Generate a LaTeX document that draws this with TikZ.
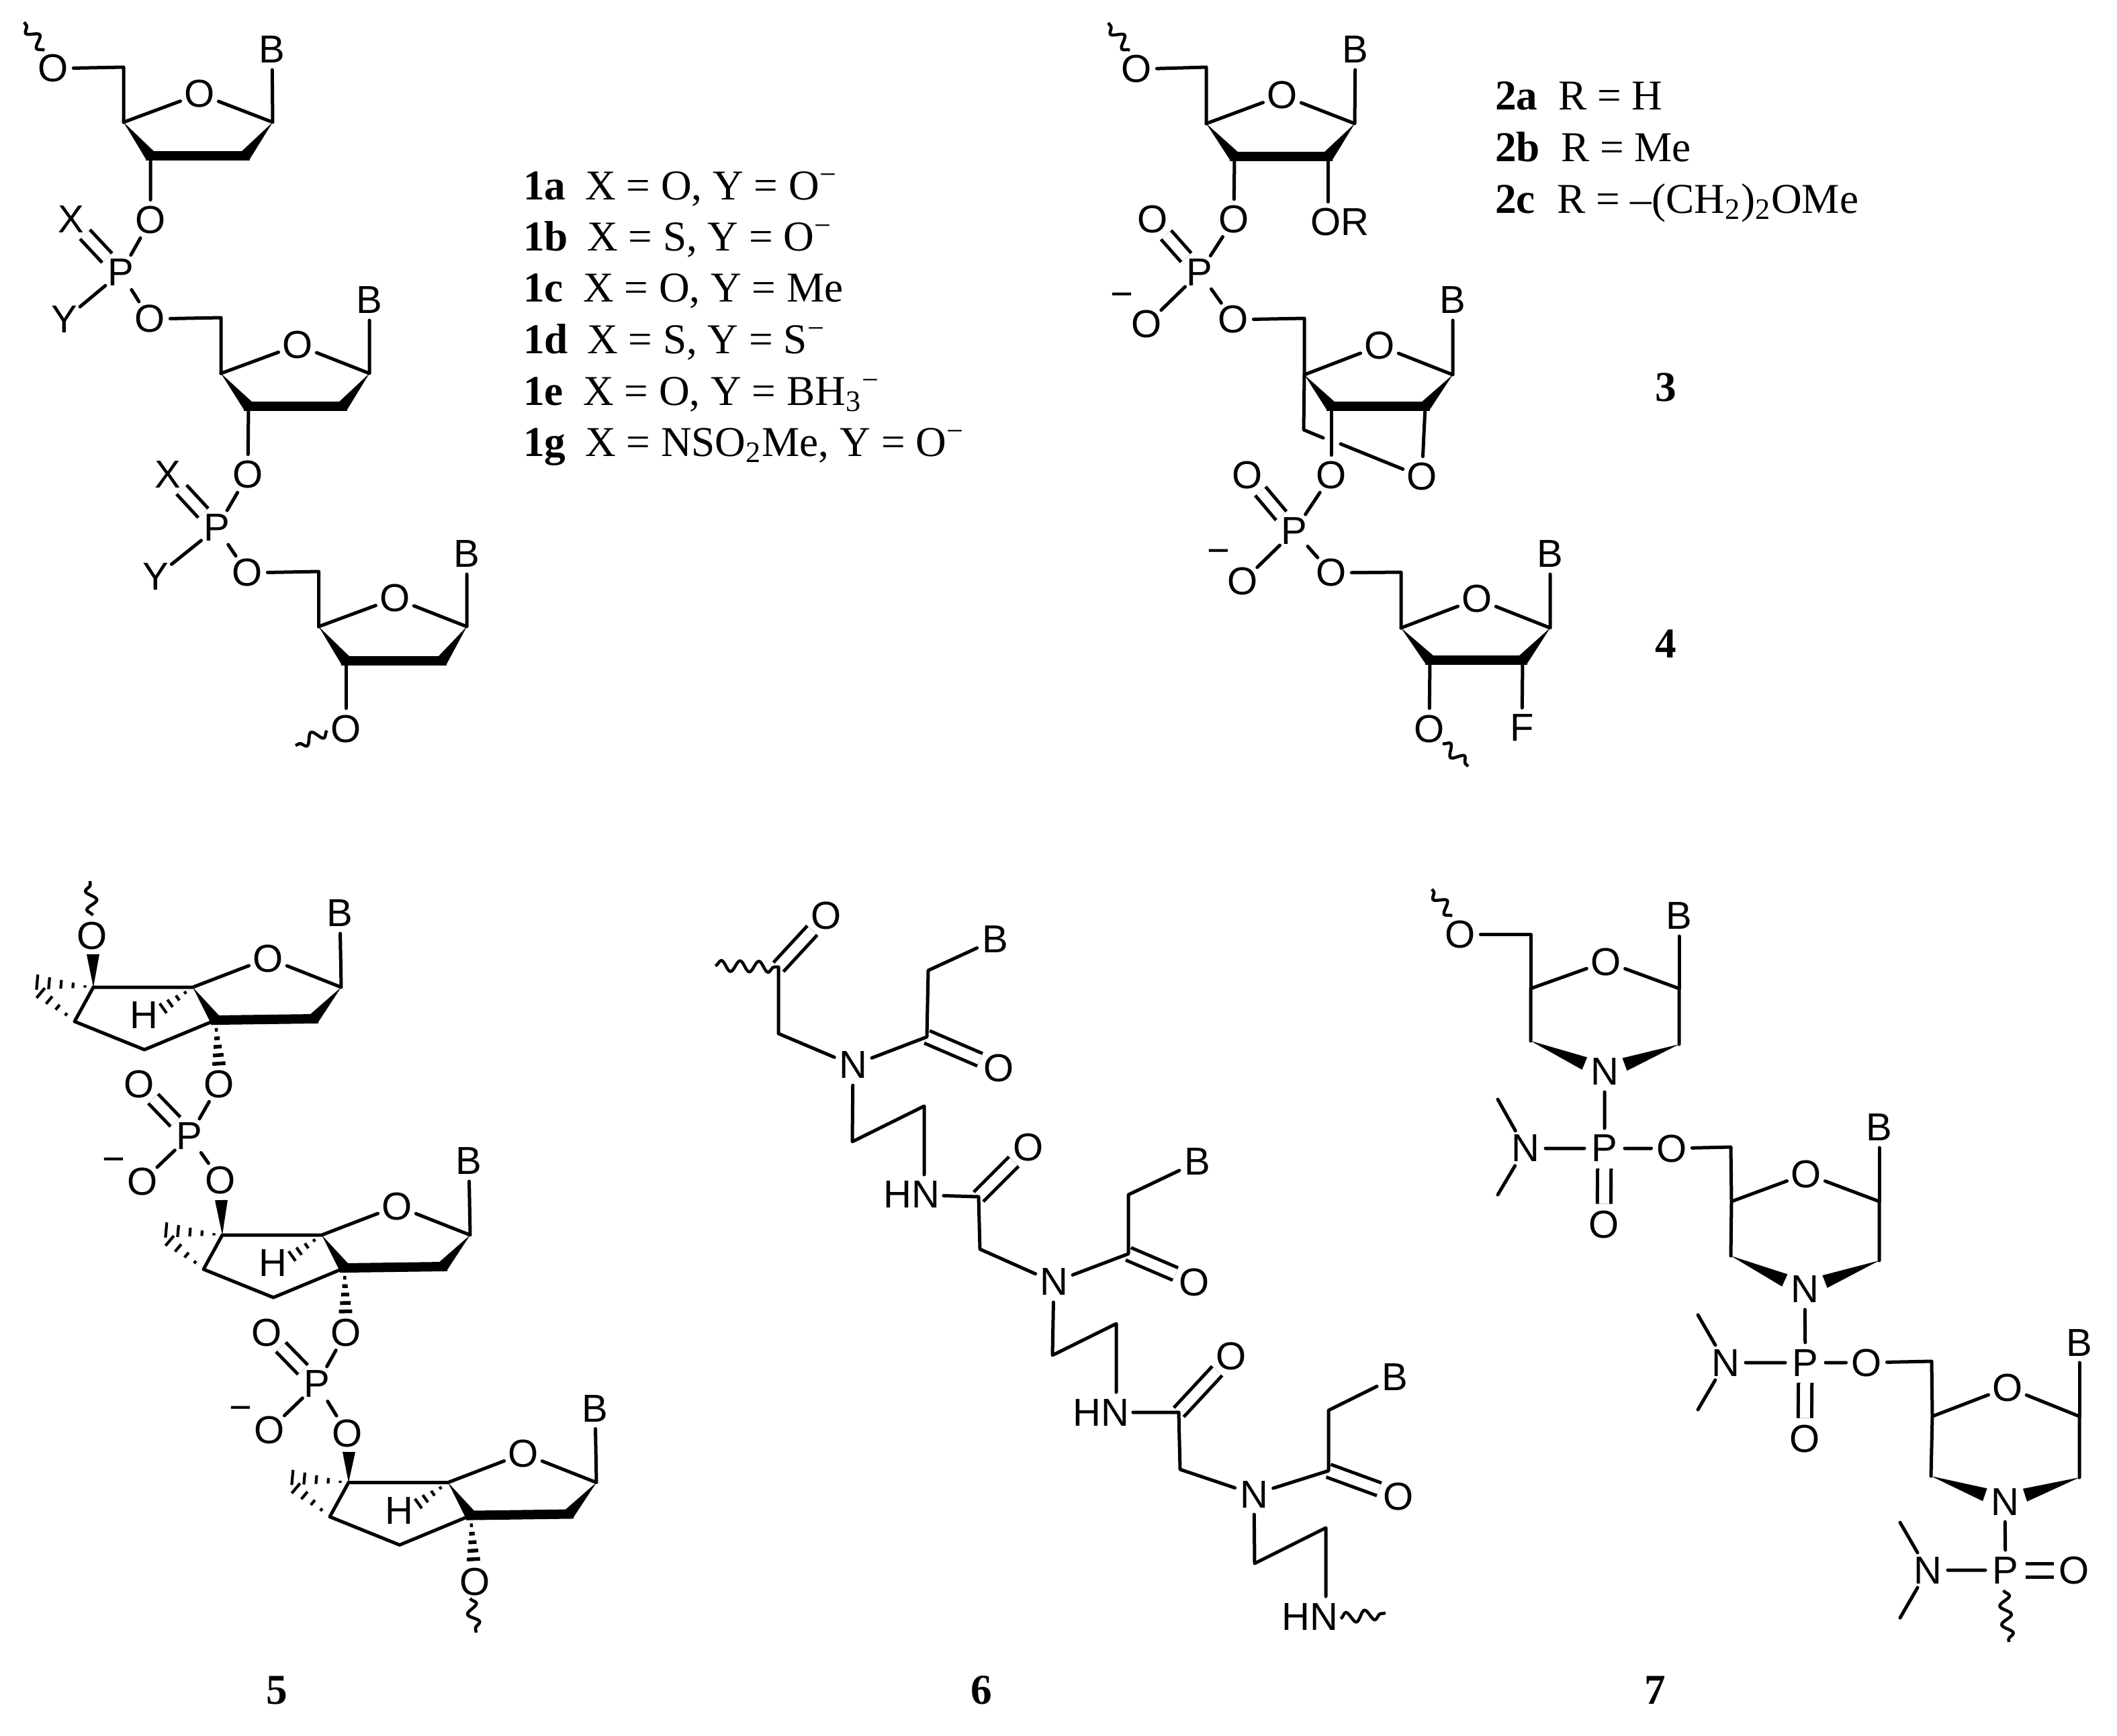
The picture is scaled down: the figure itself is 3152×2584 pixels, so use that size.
\documentclass[tikz,border=0pt]{standalone}
\usepackage{fontspec}
\setmainfont{Liberation Serif}
\newfontfamily\chemfont{Liberation Sans}
\usetikzlibrary{calc,decorations.pathmorphing}
\tikzset{
  atom/.style={circle,inner sep=0pt,outer sep=0pt,minimum size=0.6cm,font=\chemfont\fontsize{16.5}{18}\selectfont},
  atomwide/.style={rectangle,inner xsep=0.06cm,inner ysep=0.1cm,outer sep=0pt,font=\chemfont\fontsize{16.5}{18}\selectfont},
  charge/.style={rectangle,inner sep=0pt,outer sep=0pt,font=\chemfont\fontsize{16.5}{18}\selectfont},
  bond/.style={draw=black,line width=0.05cm,line cap=round,line join=round},
  boldb/.style={draw=black,line width=0.14cm,line cap=rect},
  dbl/.style={draw=black,line width=0.05cm,double=white,double distance=0.15cm,line cap=butt},
  wavy/.style={draw=black,line width=0.045cm,decorate,decoration={snake,segment length=0.28cm,amplitude=0.08cm,pre length=0pt,post length=0pt}},
  hashline/.style={draw=black,line width=0.055cm},
  lab/.style={inner sep=0pt,outer sep=0pt,anchor=base west,font=\bfseries\fontsize{18}{20}\selectfont},
  txt/.style={inner sep=0pt,outer sep=0pt,anchor=base west,font=\fontsize{18}{20}\selectfont},
  num/.style={inner sep=0pt,outer sep=0pt,font=\bfseries\fontsize{18}{20}\selectfont},
}
% filled wedge: point at #1, wide end at #2, half width #3
\newcommand\wedgeb[3]{\fill[black] (#1) -- ($(#2)!#3!90:(#1)$) -- ($(#2)!#3!-90:(#1)$) -- cycle;}
% hashed wedge: narrow at #2, wide at #3, half width #4 (number, cm)
\newcommand\hashb[4][0.14,0.33,0.52,0.71,0.9]{%
  \foreach \hh in {#1}{%
    \pgfmathsetmacro\hw{#4*\hh}%
    \draw[hashline] ($(#2)!\hh!(#3)!\hw cm!90:(#3)$) -- ($(#2)!\hh!(#3)!\hw cm!-90:(#3)$);
  }}
% furanose: prefix, C4, O, C1, C3, C2, B
\newcommand\Fur[7]{%
  \coordinate (#1C4) at (#2);
  \node[atom] (#1O) at (#3) {O};
  \coordinate (#1C1) at (#4);
  \coordinate (#1C3) at (#5);
  \coordinate (#1C2) at (#6);
  \node[atom] (#1B) at (#7) {B};
  \draw[bond] (#1C4) -- (#1O) -- (#1C1) -- (#1B);
  \draw[boldb] (#1C3) -- (#1C2);
  \wedgeb{#1C4}{#1C3}{0.085cm}
  \wedgeb{#1C1}{#1C2}{0.085cm}
}
% bicyclic unit of structure 5: prefix, origin
\newcommand\Bicy[2]{%
  \begin{scope}[shift={(#2)}]
  \coordinate (#1C5) at (0,0);
  \coordinate (#1C6) at (148,0);
  \node[atom] (#1O) at (260,-43) {O};
  \coordinate (#1C1) at (369,0);
  \node[atom] (#1B) at (367,-110) {B};
  \coordinate (#1C2) at (328,47);
  \coordinate (#1C3) at (182,49);
  \coordinate (#1L) at (-28,51);
  \coordinate (#1M) at (76,93);
  \coordinate (#1A) at (-89,-8);
  \coordinate (#1A2) at (-91,-2);
  \node[atom] (#1H) at (75,42) {H};
  \coordinate (#1HE) at (103,32);
  \draw[bond] (#1C5) -- (#1C6) -- (#1O) -- (#1C1) -- (#1B);
  \draw[bond] (#1C5) -- (#1L) -- (#1M) -- (#1C3);
  \draw[boldb] (#1C3) -- (#1C2);
  \wedgeb{#1C6}{#1C3}{0.085cm}
  \wedgeb{#1C1}{#1C2}{0.085cm}
  \begin{scope}[hashline/.style={draw=black,line width=0.042cm}]
  \hashb[0.14,0.34,0.54,0.74,0.94]{#1C5}{#1A}{0.12}
  \hashb[0.2,0.4,0.6,0.8,1.0]{#1L}{#1A2}{0.12}
  \hashb[0.25,0.5,0.75,0.98]{#1C6}{#1HE}{0.09}
  \end{scope}
  \end{scope}
}
% morpholine: prefix, C4, O, C1, left C, right C, N, B
\newcommand\Morph[8]{%
  \coordinate (#1C4) at (#2);
  \node[atom] (#1O) at (#3) {O};
  \coordinate (#1C1) at (#4);
  \coordinate (#1CL) at (#5);
  \coordinate (#1CR) at (#6);
  \node[atom] (#1N) at (#7) {N};
  \node[atom] (#1B) at (#8) {B};
  \coordinate (#1WL) at ($(#1CL)!0.73!(#7)$);
  \coordinate (#1WR) at ($(#1CR)!0.73!(#7)$);
  \draw[bond] (#1CL) -- (#1C4) -- (#1O) -- (#1C1) -- (#1CR);
  \draw[bond] (#1C1) -- (#1B);
  \wedgeb{#1CL}{#1WL}{0.1cm}
  \wedgeb{#1CR}{#1WR}{0.1cm}
}
\begin{document}
\begin{tikzpicture}[x=0.01cm,y=-0.01cm]
\useasboundingbox (0,0) rectangle (3152,2584);
\fill[white] (0,0) rectangle (3152,2584);

%%%%%% Structure 1
\Fur{a}{184,182}{297,140}{406,182}{224,232}{365,232}{405,74}
\Fur{b}{329,556}{443,514}{550,556}{370,605}{510,605}{550,447}
\Fur{c}{474.5,933}{588,891}{695,933}{515,984}{658,984}{695,825}
\coordinate (aC5) at (184,100);
\node[atom] (aO5) at (79,102) {O};
\coordinate (aw1) at (66,75);
\coordinate (aw2) at (36,33);
\draw[wavy] (aw1) -- (aw2);
\draw[bond] (aO5) -- (aC5) -- (aC4);
\node[atom] (aO3) at (224,328) {O};
\node[atom] (aP) at (180,406) {P};
\node[atom] (aX) at (106,327) {X};
\node[atom] (aY) at (96,476) {Y};
\node[atom] (bO5) at (223,475) {O};
\coordinate (bC5) at (329,473);
\draw[dbl] (aP) -- (aX);
\draw[bond] (aC3) -- (aO3) -- (aP) -- (aY);
\draw[bond] (aP) -- (bO5) -- (bC5) -- (bC4);
\node[atom] (bO3) at (369,707) {O};
\node[atom] (bP) at (323,786) {P};
\node[atom] (bX) at (250,707) {X};
\node[atom] (bY) at (232,859) {Y};
\node[atom] (cO5) at (368,853) {O};
\coordinate (cC5) at (474.5,851);
\draw[dbl] (bP) -- (bX);
\draw[bond] (bC3) -- (bO3) -- (bP) -- (bY);
\draw[bond] (bP) -- (cO5) -- (cC5) -- (cC4);
\node[atom] (cO3) at (515,1085) {O};
\draw[bond] (cC3) -- (cO3);
\coordinate (cw1) at (487,1088);
\coordinate (cw2) at (440,1110);
\draw[wavy] (cw1) -- (cw2);

%%%%%% Table 1
\node[lab] (n1a) at (779,297) {1a};
\node[txt] (t1a) at (871,297) {X = O, Y = O\textsuperscript{−}};
\node[lab] (n1b) at (779,373) {1b};
\node[txt] (t1b) at (874,373) {X = S, Y = O\textsuperscript{−}};
\node[lab] (n1c) at (779,449) {1c};
\node[txt] (t1c) at (868,449) {X = O, Y = Me};
\node[lab] (n1d) at (779,526) {1d};
\node[txt] (t1d) at (874,526) {X = S, Y = S\textsuperscript{−}};
\node[lab] (n1e) at (779,603) {1e};
\node[txt] (t1e) at (868,603) {X = O, Y = BH\textsubscript{3}\textsuperscript{−}};
\node[lab] (n1g) at (779,679) {1g};
\node[txt] (t1g) at (871,679) {X = NSO\textsubscript{2}Me, Y = O\textsuperscript{−}};

%%%%%% Structures 2,3,4
\Fur{d}{1796,184}{1909,142}{2017,184}{1838,233}{1977,233}{2018,74}
\Fur{e}{1942,558}{2054,515}{2163,558}{1982,605}{2122,605}{2163,447}
\Fur{f}{2086,935}{2199,892}{2308,935}{2129,983}{2267,983}{2308,825}
\coordinate (dC5) at (1796,100);
\node[atom] (dO5) at (1692,103) {O};
\coordinate (dw1) at (1682,75);
\coordinate (dw2) at (1650,34);
\draw[wavy] (dw1) -- (dw2);
\draw[bond] (dO5) -- (dC5) -- (dC4);
\node[atom] (dO3) at (1837,327) {O};
\node[atomwide] (dOR) at (1995,331) {OR};
\draw[bond] (dC2) -- (dC2 |- dOR.north);
\node[atom] (dP) at (1786,406) {P};
\node[atom] (dX) at (1716,327) {O};
\node[atom] (dM) at (1707,483) {O};
\node[charge] (dMinus) at (1670,447) {−};
\node[atom] (eO5) at (1836,476) {O};
\coordinate (eC5) at (1942,474);
\draw[dbl] (dP) -- (dX);
\draw[bond] (dC3) -- (dO3) -- (dP) -- (dM);
\draw[bond] (dP) -- (eO5) -- (eC5) -- (eC4);
% bridge of 3
\coordinate (eBr) at (1941,640);
\coordinate (eBr1) at (1970,652);
\coordinate (eBr2) at (1996,661);
\node[atom] (eOb) at (2117,710) {O};
\node[atom] (eO3) at (1982,708) {O};
\draw[bond] (eC4) -- (eBr) -- (eBr1);
\draw[bond] (eBr2) -- (eOb) -- (eC2);
\draw[bond] (eC3) -- (eO3);
\node[atom] (eP) at (1927,791) {P};
\node[atom] (eX) at (1857,708) {O};
\node[atom] (eM) at (1850,866) {O};
\node[charge] (eMinus) at (1814,829) {−};
\node[atom] (fO5) at (1982,853) {O};
\coordinate (fC5) at (2086,852);
\draw[dbl] (eP) -- (eX);
\draw[bond] (eO3) -- (eP) -- (eM);
\draw[bond] (eP) -- (fO5) -- (fC5) -- (fC4);
\node[atom] (fO3) at (2128,1085) {O};
\node[atom] (fF) at (2266,1084) {F};
\draw[bond] (fC3) -- (fO3);
\draw[bond] (fC2) -- (fF);
\coordinate (fw1) at (2148,1107);
\coordinate (fw2) at (2186,1141);
\draw[wavy] (fw1) -- (fw2);

%%%%%% Table 2
\node[lab] (n2a) at (2226,163) {2a};
\node[txt] (t2a) at (2320,163) {R = H};
\node[lab] (n2b) at (2226,240) {2b};
\node[txt] (t2b) at (2324,240) {R = Me};
\node[lab] (n2c) at (2226,317) {2c};
\node[txt] (t2c) at (2318,317) {R = –(CH\textsubscript{2})\textsubscript{2}OMe};
\node[num] (n3) at (2480,577) {3};
\node[num] (n4) at (2480,959) {4};

%%%%%% Structure 5
\Bicy{u}{139,1470}
\Bicy{v}{331,1839}
\Bicy{w}{519,2207.5}
\node[atom] (uOt) at (137,1393) {O};
\coordinate (uWt) at (138.5,1421);
\wedgeb{uC5}{uWt}{0.095cm}
\coordinate (uw1) at (138,1363);
\coordinate (uw2) at (134,1312);
\draw[wavy] (uw1) -- (uw2);
\coordinate (uH3) at (326,1585);
\hashb[0.22,0.41,0.6,0.79,0.98]{uC3}{uH3}{0.1}
\node[atom] (uOd) at (326.5,1614) {O};
\node[atom] (uP) at (282,1692) {P};
\node[atom] (uX) at (207,1614) {O};
\node[atom] (uM) at (212,1759) {O};
\node[charge] (uMinus) at (169,1735) {−};
\node[atom] (vOt) at (328,1757) {O};
\draw[dbl] (uP) -- (uX);
\draw[bond] (uOd) -- (uP) -- (uM);
\draw[bond] (uP) -- (vOt);
\coordinate (vWt) at (329.5,1787);
\wedgeb{vC5}{vWt}{0.095cm}
\coordinate (vH3) at (514.5,1954);
\hashb[0.22,0.41,0.6,0.79,0.98]{vC3}{vH3}{0.1}
\node[atom] (vOd) at (515,1984) {O};
\node[atom] (vP) at (472,2061) {P};
\node[atom] (vX) at (397,1984) {O};
\node[atom] (vM) at (401.5,2129) {O};
\node[charge] (vMinus) at (358,2105) {−};
\node[atom] (wOt) at (517,2134) {O};
\draw[dbl] (vP) -- (vX);
\draw[bond] (vOd) -- (vP) -- (vM);
\draw[bond] (vP) -- (wOt);
\coordinate (wWt) at (519.5,2162);
\wedgeb{wC5}{wWt}{0.095cm}
\coordinate (wH3) at (705,2323);
\hashb[0.22,0.41,0.6,0.79,0.98]{wC3}{wH3}{0.1}
\node[atom] (wOd) at (707,2355) {O};
\coordinate (ww1) at (700,2380);
\coordinate (ww2) at (709,2431);
\draw[wavy] (ww1) -- (ww2);
\node[num] (n5) at (412,2517) {5};

%%%%%% Structure 6
\coordinate (pw) at (1065,1438);
\coordinate (p1) at (1159,1440);
\coordinate (p2) at (1159,1539);
\node[atom] (pO1) at (1230,1363) {O};
\node[atom] (pN1) at (1270,1586) {N};
\coordinate (p3) at (1380,1544);
\coordinate (p4) at (1382,1445);
\node[atom] (pB1) at (1482,1399) {B};
\node[atom] (pO2) at (1487,1590) {O};
\coordinate (p5) at (1269,1700);
\coordinate (p6) at (1376,1647);
\node[atomwide] (pHN1) at (1357,1779) {HN};
\coordinate (p7) at (1457,1782);
\node[atom] (pO3) at (1531,1708) {O};
\coordinate (p8) at (1459,1860);
\node[atom] (pN2) at (1569,1909) {N};
\coordinate (p9) at (1680,1867);
\coordinate (p10) at (1680,1779);
\node[atom] (pB2) at (1783,1730) {B};
\node[atom] (pO4) at (1778,1909) {O};
\coordinate (p11) at (1567,2018);
\coordinate (p12) at (1662,1971);
\node[atomwide] (pHN2) at (1639,2103) {HN};
\coordinate (p13) at (1755,2103);
\node[atom] (pO5) at (1833,2019) {O};
\coordinate (p14) at (1757,2188);
\node[atom] (pN3) at (1867,2225) {N};
\coordinate (p15) at (1978,2190);
\coordinate (p16) at (1978,2100);
\node[atom] (pB3) at (2077,2051) {B};
\node[atom] (pO6) at (2082,2228) {O};
\coordinate (p17) at (1868,2328);
\coordinate (p18) at (1974,2275);
\node[atomwide] (pHN3) at (1950,2407) {HN};
\coordinate (pw1) at (1996,2410);
\coordinate (pw2) at (2063,2402);
\draw[dbl] (p1) -- (pO1);
\draw[dbl] (p3) -- (pO2);
\draw[dbl] (p7) -- (pO3);
\draw[dbl] (p9) -- (pO4);
\draw[dbl] (p13) -- (pO5);
\draw[dbl] (p15) -- (pO6);
\draw[bond] (p1) -- (p2) -- (pN1) -- (p3) -- (p4) -- (pB1);
\draw[bond] (pN1) -- (p5) -- (p6) -- (p6 |- pHN1.north);
\draw[bond] (pHN1) -- (p7) -- (p8) -- (pN2) -- (p9) -- (p10) -- (pB2);
\draw[bond] (pN2) -- (p11) -- (p12) -- (p12 |- pHN2.north);
\draw[bond] (pHN2) -- (p13) -- (p14) -- (pN3) -- (p15) -- (p16) -- (pB3);
\draw[bond] (pN3) -- (p17) -- (p18) -- (p18 |- pHN3.north);
\draw[wavy] (pw) -- (p1);
\draw[wavy] (pw1) -- (pw2);
\node[num] (n6) at (1461,2517) {6};

%%%%%% Structure 7
\Morph{x}{2279,1472}{2391,1432}{2500,1472}{2279,1550}{2500,1555}{2389,1596}{2500,1364}
\Morph{y}{2578,1789}{2689,1748}{2798,1789}{2577,1870}{2798,1877}{2687,1920}{2798,1679}
\Morph{z}{2877,2109}{2989,2066}{3096,2109}{2875,2198}{3096,2200}{2985,2236}{3096,1999}
\coordinate (xw1) at (2162,1364);
\coordinate (xw2) at (2132,1324);
\draw[wavy] (xw1) -- (xw2);
\node[atom] (xO5) at (2174,1391) {O};
\coordinate (xC5) at (2279,1391);
\draw[bond] (xO5) -- (xC5) -- (xC4);
\node[atom] (xP) at (2389,1710) {P};
\node[atom] (xNm) at (2271,1710) {N};
\coordinate (xMe1) at (2230,1637);
\coordinate (xMe2) at (2230,1779);
\node[atom] (xX) at (2388,1823) {O};
\node[atom] (yO5) at (2489,1710) {O};
\coordinate (yC5) at (2577,1708);
\draw[dbl] (xP) -- (xX);
\draw[bond] (xN) -- (xP) -- (xNm) -- (xMe1);
\draw[bond] (xNm) -- (xMe2);
\draw[bond] (xP) -- (yO5) -- (yC5) -- (yC4);
\node[atom] (yP) at (2688,2029) {P};
\node[atom] (yNm) at (2569,2029) {N};
\coordinate (yMe1) at (2528,1958);
\coordinate (yMe2) at (2528,2099);
\node[atom] (yX) at (2687,2142) {O};
\node[atom] (zO5) at (2779,2029) {O};
\coordinate (zC5) at (2876,2027);
\draw[dbl] (yP) -- (yX);
\draw[bond] (yN) -- (yP) -- (yNm) -- (yMe1);
\draw[bond] (yNm) -- (yMe2);
\draw[bond] (yP) -- (zO5) -- (zC5) -- (zC4);
\node[atom] (zP) at (2986,2338) {P};
\node[atom] (zNm) at (2870,2338) {N};
\coordinate (zMe1) at (2829,2267);
\coordinate (zMe2) at (2829,2409);
\node[atom] (zX) at (3088,2338) {O};
\draw[dbl] (zP) -- (zX);
\draw[bond] (zN) -- (zP) -- (zNm) -- (zMe1);
\draw[bond] (zNm) -- (zMe2);
\coordinate (zw1) at (2983,2368);
\coordinate (zw2) at (2991,2445);
\draw[wavy] (zw1) -- (zw2);
\node[num] (n7) at (2464,2517) {7};
\end{tikzpicture}
\end{document}
